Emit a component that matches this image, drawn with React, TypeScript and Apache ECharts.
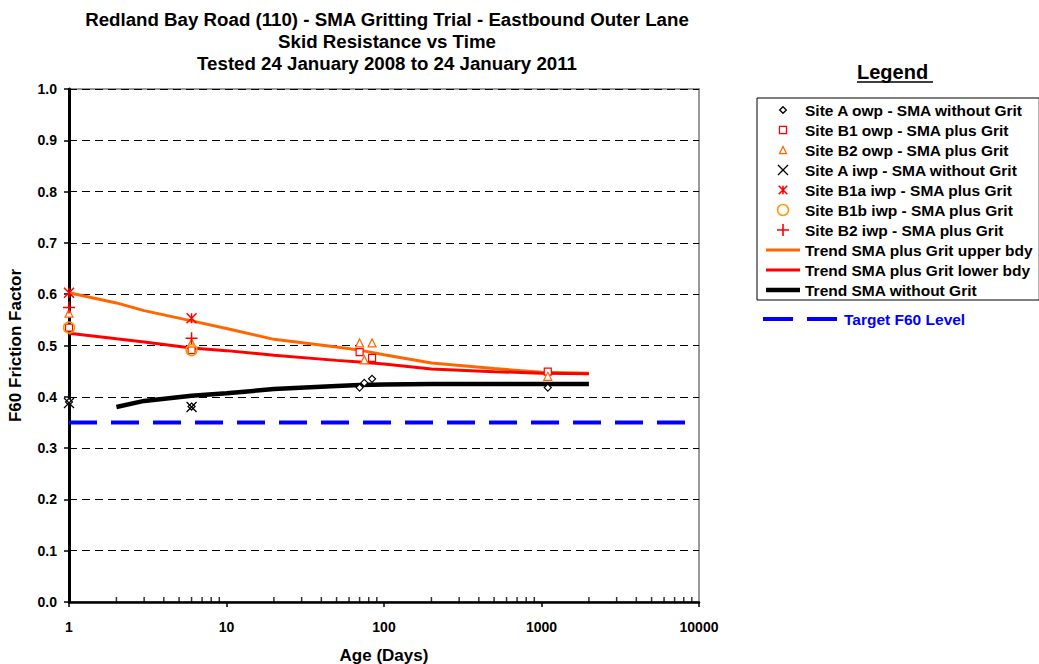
import React, { useEffect, useRef } from "react";
import * as echarts from "echarts";

// ---- Data (Age in days, F60 friction factor) ----
const siteAOwp: [number, number][] = [[1, 0.39], [6, 0.381], [70, 0.418], [75, 0.427], [84, 0.435], [1096, 0.418]];
const siteB1Owp: [number, number][] = [[1, 0.535], [6, 0.491], [70, 0.487], [84, 0.476], [1096, 0.449]];
const siteB2Owp: [number, number][] = [[1, 0.563], [6, 0.505], [70, 0.505], [75, 0.472], [84, 0.505], [1096, 0.44]];
const siteAIwp: [number, number][] = [[1, 0.388], [6, 0.38]];
const siteB1aIwp: [number, number][] = [[1, 0.603], [6, 0.553]];
const siteB1bIwp: [number, number][] = [[1, 0.535], [6, 0.491]];
const siteB2Iwp: [number, number][] = [[1, 0.574], [6, 0.514]];

const trendDays = [1, 2, 3, 6, 10, 20, 50, 70, 100, 200, 500, 1000, 2000];
const trendUpper = [0.603, 0.583, 0.568, 0.548, 0.533, 0.512, 0.497, 0.491, 0.482, 0.466, 0.455, 0.448, 0.446];
const trendLower = [0.524, 0.513, 0.507, 0.495, 0.49, 0.481, 0.471, 0.468, 0.464, 0.454, 0.449, 0.446, 0.445];
const trendNoGritDays = [2, 3, 6, 10, 20, 50, 70, 100, 200, 500, 1000, 2000];
const trendNoGrit = [0.38, 0.392, 0.402, 0.407, 0.415, 0.421, 0.423, 0.424, 0.425, 0.425, 0.425, 0.425];
const targetDays = [1, 10000];
const targetLevel = [0.35, 0.35];

const xTickLabels = ["1", "10", "100", "1000", "10000"];
const minorTickDays = [2, 3, 4, 5, 6, 7, 8, 9, 20, 30, 40, 50, 60, 70, 80, 90, 200, 300, 400, 500, 600, 700, 800, 900, 2000, 3000, 4000, 5000, 6000, 7000, 8000, 9000];

const titleText = "Redland Bay Road (110) - SMA Gritting Trial - Eastbound Outer Lane\nSkid Resistance vs Time\nTested 24 January 2008 to 24 January 2011";

const NAMES = [
  "Site A owp - SMA without Grit",
  "Site B1 owp - SMA plus Grit",
  "Site B2 owp - SMA plus Grit",
  "Site A iwp - SMA without Grit",
  "Site B1a iwp - SMA plus Grit",
  "Site B1b iwp - SMA plus Grit",
  "Site B2 iwp - SMA plus Grit",
  "Trend SMA plus Grit upper bdy",
  "Trend SMA plus Grit lower bdy",
  "Trend SMA without Grit",
];
const TARGET_NAME = "Target F60 Level";

const FONT = '"Liberation Sans", Arial, Helvetica, sans-serif';
const ORANGE = "#FF6600";
const LIGHT_ORANGE = "#FF9900";
const RED = "#FF0000";

const X_PATH = "path://M0,0L10,10M10,0L0,10";
const STAR_PATH = "path://M0,0L10,10M10,0L0,10M5,0L5,10";
const PLUS_PATH = "path://M5,0L5,10M0,5L10,5";

// legend icons (invisible moveTo points pad the box so the glyph renders smaller)
const LEG_DIAMOND = "path://M-4,-4M14,14M5,0L10,5L5,10L0,5Z";
const LEG_SQUARE = "path://M-3.5,-3.5M13.5,13.5M0,0L10,0L10,10L0,10Z";
const LEG_TRIANGLE = "path://M-3.5,-3.5M13.5,13.5M5,0L10,10L0,10Z";
const LEG_X = "path://M-1,-1M11,11M0,0L10,10M10,0L0,10";
const LEG_STAR = "path://M-2,-2M12,12M0,0L10,10M10,0L0,10M5,0L5,10";
const LEG_CIRCLE = "path://M-0.5,-0.5M10.5,10.5M0,5A5,5,0,1,1,10,5A5,5,0,1,1,0,5Z";
const LEG_PLUS = "path://M5,0L5,10M0,5L10,5";

const pair = (xs: number[], ys: number[]) => xs.map((x, i) => [x, ys[i]]);

export default function App() {
  const ref = useRef<HTMLDivElement>(null);
  useEffect(() => {
    if (!ref.current) return;
    const chart = echarts.init(ref.current, null, { renderer: "svg" });

    const scatter = (name: string, data: [number, number][], symbol: string, size: number, fill: string, stroke: string, bw: number) => ({
      name,
      type: "scatter",
      data,
      symbol,
      symbolSize: size,
      z: 5,
      itemStyle: { color: fill, borderColor: stroke, borderWidth: bw, opacity: 1 },
    });

    const legendScatter = (name: string, icon: string, fill: string, stroke: string, bw: number) => ({
      name,
      icon,
      itemStyle: { color: fill, borderColor: stroke, borderWidth: bw },
    });

    const option: any = {
      animation: false,
      backgroundColor: "#fff",
      title: {
        text: titleText,
        left: 382,
        top: 3,
        textAlign: "center",
        textStyle: { fontFamily: FONT, fontWeight: "bold", fontSize: 18.7, lineHeight: 22, color: "#000" },
      },
      grid: {
        left: 69,
        right: 340,
        top: 89,
        bottom: 62,
        outerBoundsMode: "none",
        containLabel: false,
        show: true,
        borderColor: "#9a9a9a",
        borderWidth: 2,
        backgroundColor: "transparent",
      },
      xAxis: {
        type: "log",
        logBase: 10,
        min: 1,
        max: 10000,
        name: "Age (Days)",
        nameLocation: "middle",
        nameGap: 45,
        nameTextStyle: { fontFamily: FONT, fontWeight: "bold", fontSize: 17, color: "#000" },
        axisLine: { lineStyle: { color: "#000", width: 2.5 } },
        axisTick: { show: true, length: 5, lineStyle: { color: "#000", width: 1.5 } },
        axisLabel: {
          margin: 18,
          fontFamily: FONT,
          fontWeight: "bold",
          fontSize: 14,
          color: "#000",
          formatter: (v: number) => xTickLabels[Math.round(Math.log10(v))] ?? String(v),
        },
        splitLine: { show: false },
      },
      yAxis: {
        type: "value",
        min: 0,
        max: 1,
        interval: 0.1,
        name: "F60 Friction Factor",
        nameLocation: "middle",
        nameGap: 45,
        nameRotate: 90,
        nameTextStyle: { fontFamily: FONT, fontWeight: "bold", fontSize: 17, color: "#000" },
        axisLine: { show: true, lineStyle: { color: "#000", width: 3 } },
        axisTick: { show: true, length: 5, lineStyle: { color: "#000", width: 1.5 } },
        axisLabel: {
          margin: 12,
          fontFamily: FONT,
          fontWeight: "bold",
          fontSize: 14,
          color: "#000",
          formatter: (v: number) => v.toFixed(1),
        },
        splitLine: { show: true, lineStyle: { color: "#000", width: 1, type: [8, 5] } },
      },
      legend: [
        {
          data: [
            legendScatter(NAMES[0], LEG_DIAMOND, "#fff", "#000", 1.3),
            legendScatter(NAMES[1], LEG_SQUARE, "#fff", RED, 1.3),
            legendScatter(NAMES[2], LEG_TRIANGLE, "#fff", ORANGE, 1.3),
            legendScatter(NAMES[3], LEG_X, "transparent", "#000", 1.4),
            legendScatter(NAMES[4], LEG_STAR, "transparent", RED, 1.6),
            legendScatter(NAMES[5], LEG_CIRCLE, "transparent", LIGHT_ORANGE, 1.6),
            legendScatter(NAMES[6], LEG_PLUS, "transparent", RED, 1.6),
            { name: NAMES[7], icon: "path://M0,0H34V3H0Z", itemStyle: { color: ORANGE, borderWidth: 0 } },
            { name: NAMES[8], icon: "path://M0,0H34V3H0Z", itemStyle: { color: RED, borderWidth: 0 } },
            { name: NAMES[9], icon: "path://M0,0H34V4.5H0Z", itemStyle: { color: "#000", borderWidth: 0 } },
          ],
          orient: "vertical",
          left: 757,
          top: 98,
          itemWidth: 34,
          itemHeight: 12,
          itemGap: 4,
          padding: [4, 6, 2, 9],
          borderColor: "#000",
          borderWidth: 1,
          selectedMode: false,
          textStyle: { fontFamily: FONT, fontWeight: "bold", fontSize: 15.5, color: "#000" },
        },
        {
          data: [{ name: TARGET_NAME, icon: "path://M0,0H30V4H0Z M44,0H74V4H44Z", itemStyle: { color: "#0000FF", borderWidth: 0 } }],
          left: 763,
          top: 311,
          itemWidth: 78,
          itemHeight: 4,
          padding: 0,
          selectedMode: false,
          textStyle: { fontFamily: FONT, fontWeight: "bold", fontSize: 15.5, color: "#0000FF" },
        },
      ],
      graphic: [
        {
          type: "text",
          left: 857,
          top: 62,
          style: { text: "Legend", font: `bold 20px ${FONT}`, fill: "#000" },
        },
        {
          type: "line",
          shape: { x1: 857, y1: 82, x2: 933, y2: 82 },
          style: { stroke: "#000", lineWidth: 1.5 },
        },
      ],
      series: [
        {
          name: TARGET_NAME,
          type: "line",
          data: pair(targetDays, targetLevel),
          symbol: "none",
          z: 2,
          lineStyle: { color: "#0000FF", width: 4, type: [28, 14] },
        },
        {
          name: NAMES[7],
          type: "line",
          data: pair(trendDays, trendUpper),
          symbol: "none",
          z: 3,
          lineStyle: { color: ORANGE, width: 3 },
          itemStyle: { color: ORANGE },
        },
        {
          name: NAMES[8],
          type: "line",
          data: pair(trendDays, trendLower),
          symbol: "none",
          z: 3,
          lineStyle: { color: RED, width: 3 },
          itemStyle: { color: RED },
        },
        {
          name: NAMES[9],
          type: "line",
          data: pair(trendNoGritDays, trendNoGrit),
          symbol: "none",
          z: 3,
          lineStyle: { color: "#000", width: 4.5 },
          itemStyle: { color: "#000" },
        },
        scatter(NAMES[0], siteAOwp, "diamond", 7, "#fff", "#000", 1.2),
        scatter(NAMES[1], siteB1Owp, "rect", 7, "#fff", RED, 1.2),
        scatter(NAMES[2], siteB2Owp, "triangle", 8, "#fff", ORANGE, 1.2),
        scatter(NAMES[3], siteAIwp, X_PATH, 10, "transparent", "#000", 1.3),
        scatter(NAMES[4], siteB1aIwp, STAR_PATH, 10, "transparent", RED, 1.5),
        scatter(NAMES[5], siteB1bIwp, "circle", 11, "transparent", LIGHT_ORANGE, 1.5),
        scatter(NAMES[6], siteB2Iwp, PLUS_PATH, 12, "transparent", RED, 1.5),
        {
          name: "minor ticks",
          type: "scatter",
          data: minorTickDays.map((d) => [d, 0]),
          symbol: "rect",
          symbolSize: [1.5, 5],
          symbolOffset: [0, -2.5],
          silent: true,
          z: 6,
          itemStyle: { color: "#000" },
        },
      ],
    };

    chart.setOption(option);
    return () => chart.dispose();
  }, []);

  return <div ref={ref} style={{ position: "fixed", left: 0, top: 0, width: 1039, height: 664 }} />;
}
